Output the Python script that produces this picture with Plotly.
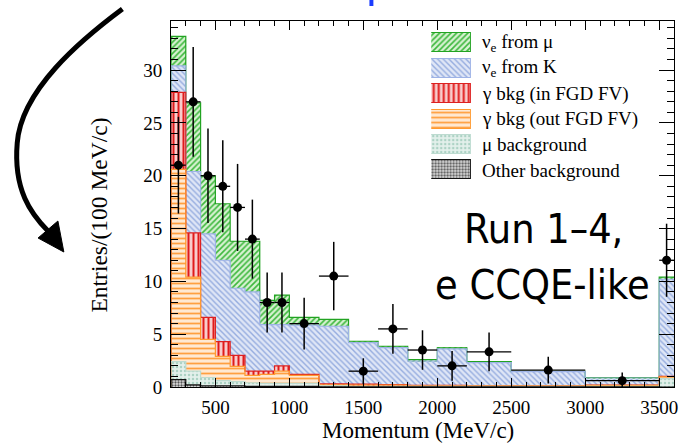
import numpy as np
import plotly.graph_objects as go

# ---------------- data (per 100 MeV/c) ----------------
bin_edges = [200, 300, 400, 500, 600, 700, 800, 900, 1000, 1200, 1400,
             1600, 1800, 2000, 2200, 2500, 3000, 3500, 3600]

other_bkg = [0.7, 0.2, 0.1, 0.1, 0.1, 0.05, 0.05, 0.05, 0.05, 0.02, 0.02,
             0.02, 0.02, 0.02, 0.02, 0.01, 0.01, 0.0]
mu_bkg    = [1.7, 1.3, 0.8, 0.5, 0.4, 0.35, 0.3, 0.3, 0.3, 0.1, 0.05,
             0.05, 0.05, 0.05, 0.05, 0.05, 0.05, 0.8]
gamma_out = [18.2, 8.9, 3.6, 2.3, 1.45, 0.7, 0.85, 1.15, 0.75, 0.08, 0.1,
             0.1, 0.05, 0.05, 0.05, 0.05, 0.1, 0.15]
gamma_in  = [7.3, 4.2, 2.1, 1.4, 1.05, 0.4, 0.3, 0.5, 0.1, 0.1, 0.1,
             0.05, 0.03, 0.03, 0.02, 0.02, 0.01, 0.05]
nue_K     = [2.5, 5.8, 7.9, 7.7, 6.35, 7.5, 4.4, 3.9, 4.65, 5.45, 3.93,
             3.5, 2.3, 3.45, 2.16, 1.32, 0.68, 9.2]
nue_mu    = [2.8, 6.5, 5.5, 5.35, 4.45, 4.8, 2.3, 2.8, 0.75, 0.65, 0.13,
             0.14, 0.15, 0.1, 0.1, 0.03, 0.05, 0.2]

data_vals = [21, 27, 20, 19, 17, 14, 8, 8, 6, 10.5, 1.5, 5.5, 3.5, 2.0,
             3.33, 1.6, 0.6, 12]
data_err  = [4.58, 5.20, 4.47, 4.36, 4.12, 3.74, 2.83, 2.83, 2.45, 3.24,
             1.22, 2.35, 1.87, 1.41, 1.83, 1.26, 0.77, 3.46]

x_ticks = [500, 1000, 1500, 2000, 2500, 3000, 3500]
y_ticks = [0, 5, 10, 15, 20, 25, 30]

legend_labels = ["ν<sub>e</sub> from μ", "ν<sub>e</sub> from K",
                 "γ bkg (in FGD FV)", "γ bkg (out FGD FV)",
                 "μ background", "Other background"]

# ---------------- styles ----------------
SERIF = "Liberation Serif, Times New Roman, serif"
styles = {
    "other": dict(shape=".", fg="#555555", bg="#e0e0e0", size=3, sol=0.45, line="#111111"),
    "mu":    dict(shape=".", fg="#acd2c4", bg="#e3f0eb", size=4, sol=0.3, line="#bddbd0"),
    "gout":  dict(shape="-", fg="#ffa040", bg="#ffe9d2", size=5, sol=0.35, line="#ff9a30"),
    "gin":   dict(shape="|", fg="#e01a1a", bg="#f8cccc", size=5, sol=0.4, line="#dd2020"),
    "K":     dict(shape="\\", fg="#95acdf", bg="#dfe6f6", size=4, sol=0.35, line="#9db2e6"),
    "numu":  dict(shape="/", fg="#3db83d", bg="#d8f2d2", size=4, sol=0.4, line="#22a322"),
}
stack = [("other", other_bkg), ("mu", mu_bkg), ("gout", gamma_out),
         ("gin", gamma_in), ("K", nue_K), ("numu", nue_mu)]
legend_order = ["numu", "K", "gin", "gout", "mu", "other"]

edges = np.array(bin_edges, dtype=float)
centers = (edges[:-1] + edges[1:]) / 2
widths = np.diff(edges)

fig = go.Figure()

for key, vals in stack:
    s = styles[key]
    fig.add_trace(go.Bar(
        x=centers, y=vals, width=widths, showlegend=False,
        marker=dict(color=s["bg"], line=dict(width=0),
                    pattern=dict(shape=s["shape"], fgcolor=s["fg"], bgcolor=s["bg"],
                                 size=s["size"], solidity=s["sol"], fillmode="replace")),
        hoverinfo="skip"))

# step outlines (drawn top -> bottom like ROOT THStack)
cums = np.cumsum(np.array([v for _, v in stack], dtype=float), axis=0)
for idx in reversed(range(len(stack))):
    key = stack[idx][0]
    cum = cums[idx]
    xs = [edges[0]] + list(edges)
    ys = [0.0] + list(cum) + [cum[-1]]
    fig.add_trace(go.Scatter(x=xs, y=ys, mode="lines", line_shape="hv",
                             line=dict(color=styles[key]["line"], width=1.2),
                             showlegend=False, hoverinfo="skip"))

# data points
fig.add_trace(go.Scatter(
    x=centers, y=data_vals, mode="markers", showlegend=False,
    marker=dict(color="black", size=9),
    error_y=dict(type="data", array=data_err, color="black", thickness=1.5, width=0),
    error_x=dict(type="data", array=widths / 2, color="black", thickness=1.3, width=0)))

# ---------------- custom legend (swatches on an overlay axis) ----------------
W, H = 681, 443
L, R, T, B = 171, 3, 21, 56
PW, PH = W - L - R, H - T - B


def px(x):
    return (x - L) / PW


def py(y):
    return (H - B - y) / PH


row0, rowstep = 42.8, 25.44
for i, key in enumerate(legend_order):
    s = styles[key]
    fig.add_trace(go.Bar(
        x=[1], y=[i], orientation="h", width=0.75, xaxis="x2", yaxis="y2",
        showlegend=False, hoverinfo="skip",
        marker=dict(color=s["bg"], line=dict(width=1.5, color=s["line"]),
                    pattern=dict(shape=s["shape"], fgcolor=s["fg"], bgcolor=s["bg"],
                                 size=s["size"], solidity=s["sol"], fillmode="replace"))))

annotations = []
for i, lab in enumerate(legend_labels):
    annotations.append(dict(xref="paper", yref="paper", x=px(482.5), y=py(row0 + rowstep * i),
                            xanchor="left", yanchor="middle", text=lab, showarrow=False,
                            font=dict(family=SERIF, size=19, color="black")))

# axis titles
annotations.append(dict(xref="paper", yref="paper", x=px(420), y=py(431), text="Momentum (MeV/c)",
                        showarrow=False, xanchor="center", yanchor="middle",
                        font=dict(family=SERIF, size=23, color="black")))
annotations.append(dict(xref="paper", yref="paper", x=px(98), y=py(215), text="Entries/(100 MeV/c)",
                        showarrow=False, xanchor="center", yanchor="middle", textangle=-90,
                        font=dict(family=SERIF, size=23.5, color="black")))

# Run label
SANS = "DejaVu Sans Condensed, Liberation Sans, Arial, sans-serif"
annotations.append(dict(xref="paper", yref="paper", x=px(546), y=py(229), text="Run 1–4,",
                        showarrow=False, xanchor="center", yanchor="middle",
                        font=dict(family=SANS, size=41, color="black")))
annotations.append(dict(xref="paper", yref="paper", x=px(545), y=py(285), text="e CCQE-like",
                        showarrow=False, xanchor="center", yanchor="middle",
                        font=dict(family=SANS, size=41, color="black")))


# decorative curved arrow (slide overlay)
def P(x, y):
    return f"{px(x):.5f},{py(y):.5f}"


arrow_path = (f"M {P(122, 9)} C {P(80, 40)} {P(20, 90)} {P(16, 143)} "
              f"C {P(12, 190)} {P(30, 214)} {P(47, 231)}")
head_path = f"M {P(37, 238)} L {P(63, 252)} L {P(57, 221)} Z"
shapes = [
    dict(type="path", xref="paper", yref="paper", path=arrow_path,
         line=dict(color="black", width=5), layer="above"),
    dict(type="path", xref="paper", yref="paper", path=head_path,
         line=dict(color="black", width=1), fillcolor="black", layer="above"),
    dict(type="rect", xref="paper", yref="paper", x0=px(371), x1=px(375), y0=py(6), y1=py(0),
         line=dict(width=0), fillcolor="#1a3cff", layer="above"),
]

axis_common = dict(showgrid=False, zeroline=False, showline=True, linecolor="black",
                   linewidth=1, mirror="ticks", ticks="inside", tickcolor="black",
                   tickwidth=1, tickfont=dict(family=SERIF, size=19, color="black"))

fig.update_layout(
    width=W, height=H, margin=dict(l=L, r=R, t=T, b=B, pad=0),
    paper_bgcolor="white", plot_bgcolor="white",
    barmode="stack", bargap=0, showlegend=False,
    xaxis=dict(range=[200, 3600], tickvals=x_ticks, ticklen=9, ticklabelstandoff=3,
               ticklabeloverflow="allow",
               minor=dict(dtick=100, tick0=0, ticks="inside", ticklen=5, tickcolor="black"),
               **axis_common),
    yaxis=dict(range=[0, 34.65], tickvals=y_ticks, ticklen=15, ticklabelstandoff=4,
               minor=dict(dtick=1, tick0=0, ticks="inside", ticklen=7, tickcolor="black"),
               **axis_common),
    xaxis2=dict(domain=[px(433.3), px(473.3)], range=[0, 1], anchor="y2", visible=False,
                fixedrange=True),
    yaxis2=dict(domain=[py(row0 + rowstep * 5.5), py(row0 - rowstep * 0.5)],
                range=[5.5, -0.5], anchor="x2", visible=False, fixedrange=True),
    annotations=annotations, shapes=shapes,
)

fig.write_html("out.html")
